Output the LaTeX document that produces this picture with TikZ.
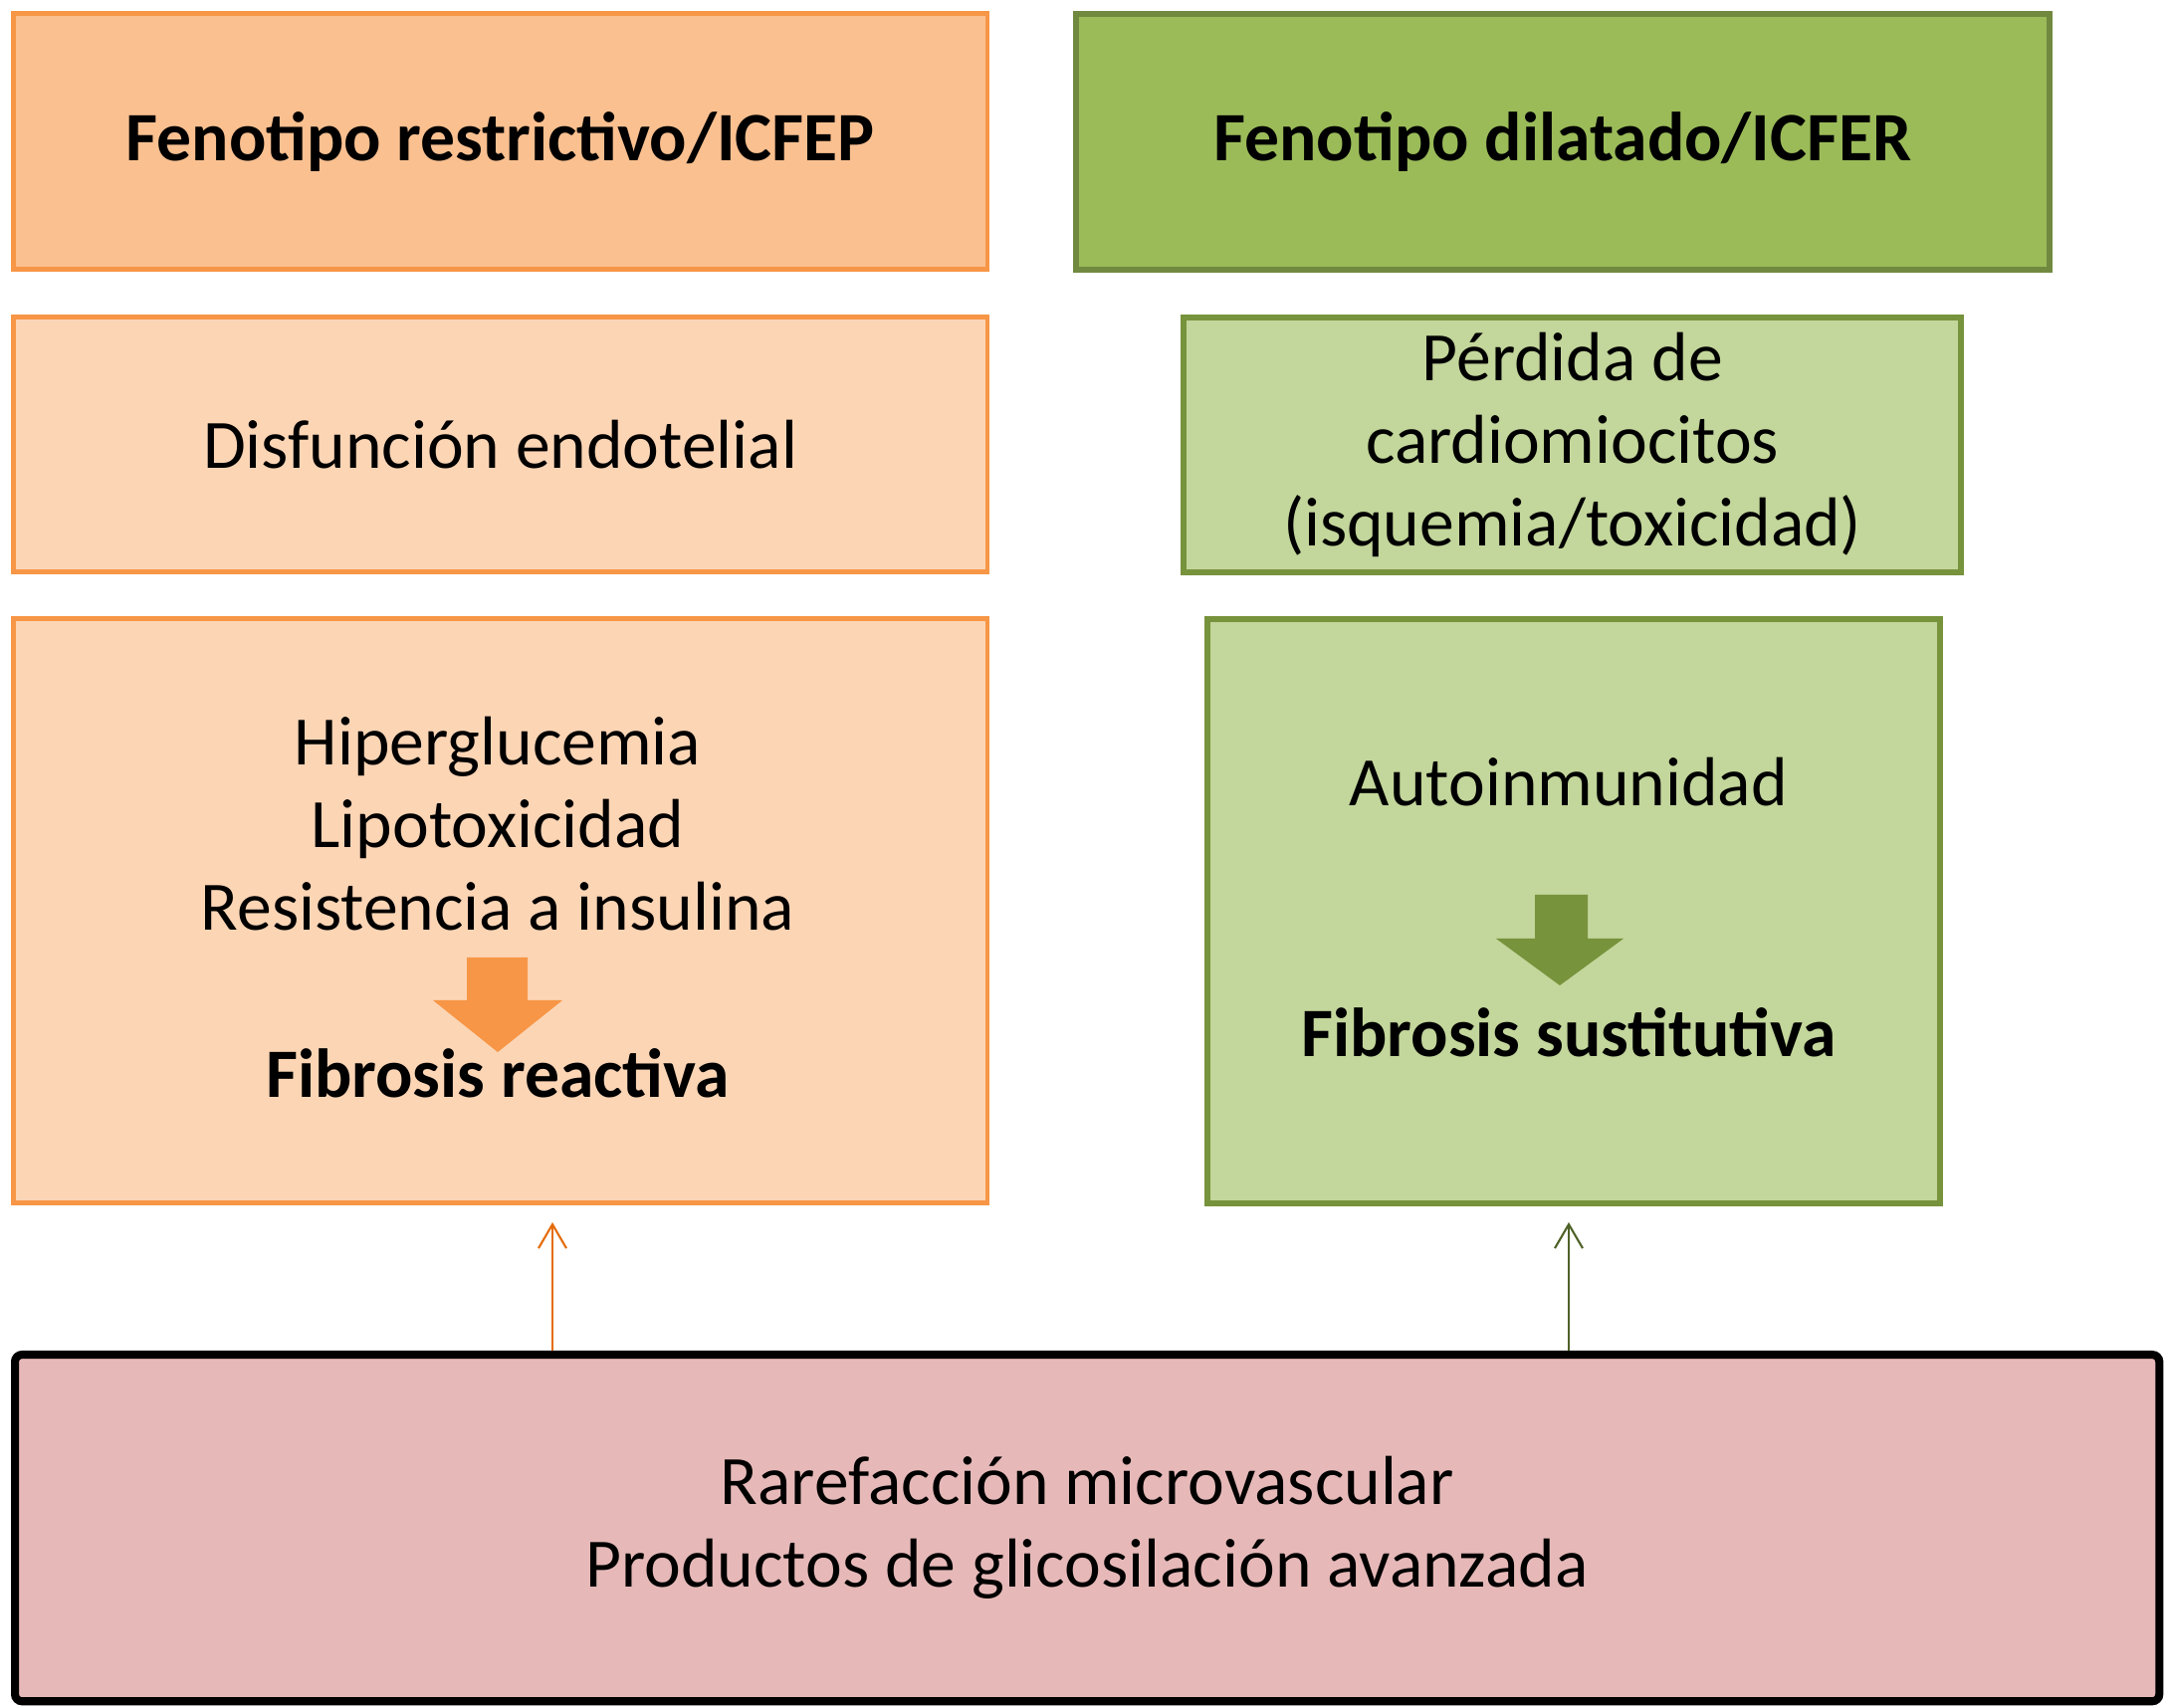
\documentclass[tikz,border=0pt]{standalone}
\usepackage{fontspec}
\setmainfont{Carlito}
\usepackage{xcolor}
\usetikzlibrary{arrows.meta}
\definecolor{naranja}{HTML}{F79646}
\definecolor{naranjaOsc}{HTML}{E46C0A}
\definecolor{naranjaMed}{HTML}{FAC090}
\definecolor{naranjaClaro}{HTML}{FCD5B5}
\definecolor{verde}{HTML}{9BBB59}
\definecolor{verdeOsc}{HTML}{71893F}
\definecolor{verdeBorde}{HTML}{77933C}
\definecolor{verdeClaro}{HTML}{C3D69B}
\definecolor{verdeFlecha}{HTML}{4F6228}
\definecolor{rosa}{HTML}{E6B9B8}

\begin{document}
\begin{tikzpicture}[x=0.01cm, y=-0.01cm,
  caja/.style={anchor=north west, inner sep=0pt, align=center,
    font=\fontsize{19.8}{23.6}\selectfont},
  cajaNar/.style={caja, draw=naranja, line width=1.4pt},
  cajaVer/.style={caja, draw=verdeBorde, line width=1.7pt},
  texto/.style={align=center, inner sep=0pt, font=\fontsize{19.8}{23.6}\selectfont},
  flechaFina/.style={line width=0.6pt, -{Straight Barb[length=2.4mm, width=2.8mm]}}]
\useasboundingbox (0,0) rectangle (2175,1716);
%%%%% Columna izquierda %%%%%
\node[cajaNar, fill=naranjaMed, minimum width=9.78cm, minimum height=2.57cm] (restrictivo) at (11,11) {\textbf{Fenotipo restrictivo/ICFEP}};
\node[cajaNar, fill=naranjaClaro, minimum width=9.78cm, minimum height=2.56cm] (disfuncion) at (11,316) {Disfunción endotelial};
\node[cajaNar, fill=naranjaClaro, minimum width=9.78cm, minimum height=5.87cm] (metabolica) at (11,619) {};
\node[texto] (hiper) at (500,828) {Hiperglucemia\\Lipotoxicidad\\Resistencia a insulina};
\fill[naranja] (469,962) -- (530,962) -- (530,1005) -- (565,1005) -- (500,1057) -- (435,1005) -- (469,1005) -- cycle;
\node[texto] (reactiva) at (500,1078) {\textbf{Fibrosis reactiva}};
%%%%% Columna derecha %%%%%
\node[caja, draw=verdeOsc, line width=1.7pt, fill=verde, minimum width=9.77cm, minimum height=2.57cm] (dilatado) at (1078,11) {\textbf{Fenotipo dilatado/ICFER}};
\node[cajaVer, fill=verdeClaro, minimum width=7.81cm, minimum height=2.56cm] (perdida) at (1186,316) {Pérdida de\\cardiomiocitos\\(isquemia/toxicidad)};
\node[cajaVer, fill=verdeClaro, minimum width=7.36cm, minimum height=5.87cm] (autoinm) at (1210,619) {};
\node[texto] (autoinmunidad) at (1576,786) {Autoinmunidad};
\fill[verdeBorde] (1542,899) -- (1595,899) -- (1595,943) -- (1631,943) -- (1567,990) -- (1503,943) -- (1542,943) -- cycle;
\node[texto] (sustitutiva) at (1576,1037) {\textbf{Fibrosis sustitutiva}};
%%%%% Base comun %%%%%
\node[caja, draw=black, line width=2.3pt, rounded corners=2pt, fill=rosa, minimum width=21.53cm, minimum height=3.48cm] (rarefaccion) at (11,1357) {Rarefacción microvascular\\Productos de glicosilación avanzada};
\coordinate (puntaIzq) at (555,1228);
\coordinate (puntaDer) at (1576,1228);
\draw[flechaFina, naranjaOsc] (rarefaccion.north -| puntaIzq) -- (puntaIzq);
\draw[flechaFina, verdeFlecha] (rarefaccion.north -| puntaDer) -- (puntaDer);
\end{tikzpicture}
\end{document}
